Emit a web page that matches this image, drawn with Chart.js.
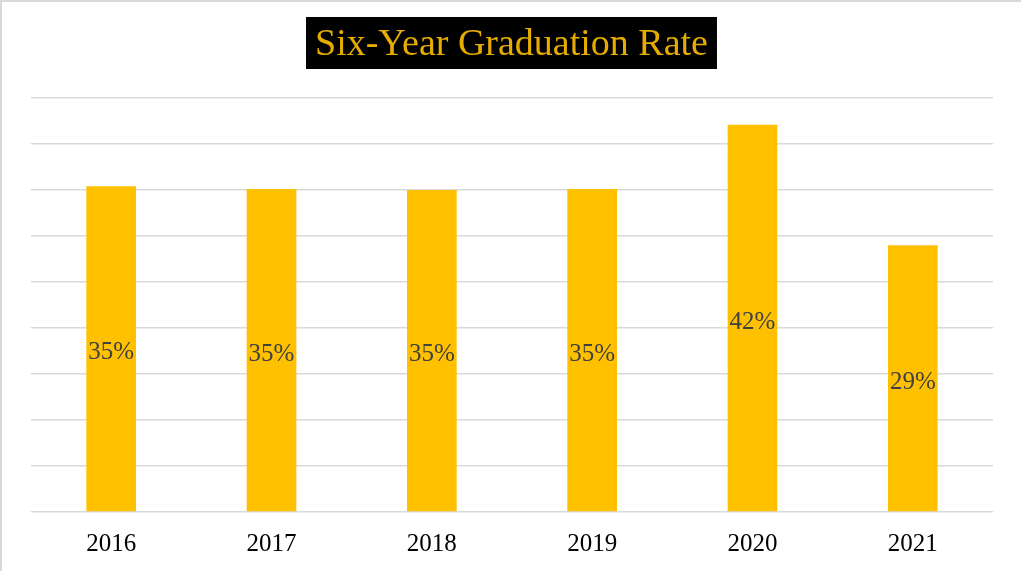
<!DOCTYPE html>
<html>
<head>
<meta charset="utf-8">
<script src="https://cdn.jsdelivr.net/npm/chart.js@4/dist/chart.umd.min.js"></script>
<style>
  html, body { margin: 0; padding: 0; background: #fff; }
  #wrap { position: relative; width: 1021px; height: 571px; box-sizing: border-box;
          border-top: 2px solid #d9d9d9; border-left: 2px solid #d9d9d9; }
  canvas { display: block; }
</style>
</head>
<body>
<div id="wrap"><canvas id="myChart" width="1019" height="569"></canvas></div>
<script>
const years = ['2016', '2017', '2018', '2019', '2020', '2021'];
const gradRate = [35.4, 35.1, 35.0, 35.1, 42.1, 29.0];
const chartTitle = 'Six-Year Graduation Rate';

const serif = "'Liberation Serif', 'DejaVu Serif', serif";

// black box title drawn on the canvas
const titleBox = {
    id: 'titleBox',
    afterDraw(chart) {
        const ctx = chart.ctx;
        ctx.save();
        ctx.font = '38px ' + serif;
        const w = ctx.measureText(chartTitle).width;
        const cx = chart.width / 2;
        ctx.fillStyle = '#000';
        ctx.fillRect(cx - w / 2 - 9, 15, w + 18, 52);
        ctx.fillStyle = '#E6AC00';
        ctx.textAlign = 'center';
        ctx.textBaseline = 'middle';
        ctx.fillText(chartTitle, cx, 43);
        ctx.restore();
    }
};

// percent labels in the middle of each bar
const barLabels = {
    id: 'barLabels',
    afterDatasetsDraw(chart) {
        const ctx = chart.ctx;
        const meta = chart.getDatasetMeta(0);
        ctx.save();
        ctx.font = '25px ' + serif;
        ctx.fillStyle = '#404040';
        ctx.textAlign = 'center';
        ctx.textBaseline = 'middle';
        meta.data.forEach((bar, i) => {
            const mid = (bar.y + bar.base) / 2;
            ctx.fillText(Math.round(gradRate[i]) + '%', bar.x, mid + 4);
        });
        ctx.restore();
    }
};

const ctx = document.getElementById('myChart').getContext('2d');
new Chart(ctx, {
    type: 'bar',
    data: {
        labels: years,
        datasets: [{
            data: gradRate,
            backgroundColor: '#FFC000',
            barPercentage: 0.31,
            categoryPercentage: 1
        }]
    },
    options: {
        responsive: false,
        animation: false,
        devicePixelRatio: 1,
        layout: { padding: { left: 29, right: 28, top: 96, bottom: 0 } },
        plugins: {
            legend: { display: false },
            tooltip: { enabled: false }
        },
        scales: {
            x: {
                grid: { display: false },
                border: { display: false },
                ticks: { color: '#000', font: { family: serif, size: 25 }, padding: 9 },
                afterFit(scale) { scale.height = 59; }
            },
            y: {
                min: 0,
                max: 45,
                ticks: { display: false, stepSize: 5 },
                border: { display: false },
                grid: { color: '#d9d9d9', lineWidth: 1.5, drawTicks: false }
            }
        }
    },
    plugins: [titleBox, barLabels]
});
</script>
</body>
</html>
